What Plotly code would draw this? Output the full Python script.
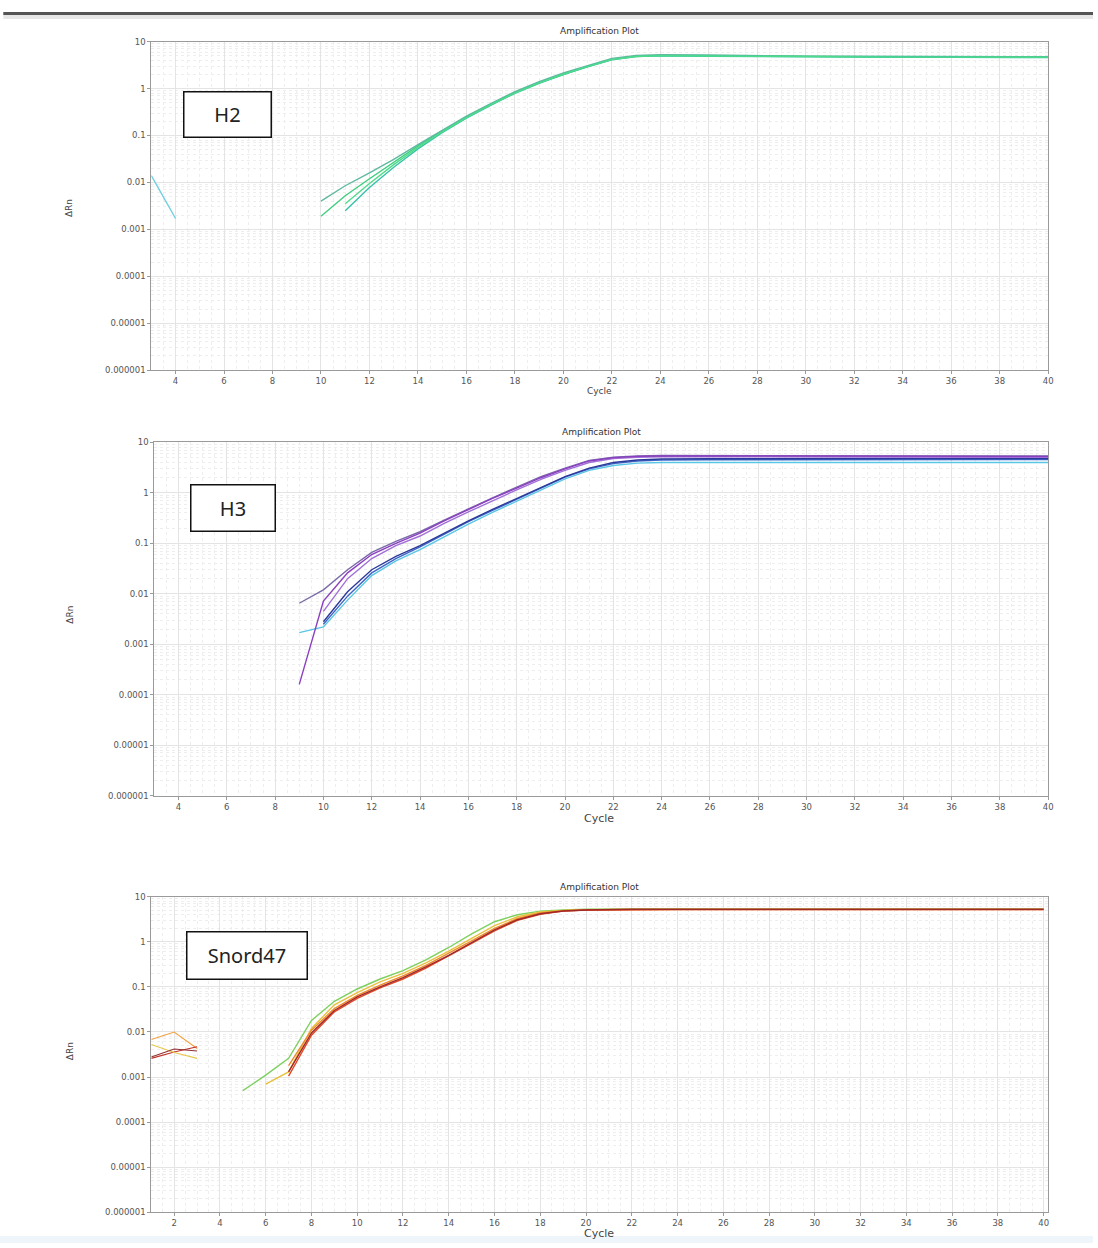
import plotly.graph_objects as go

# ---------------- data ----------------
y_tick_vals = [1e-6, 1e-5, 1e-4, 1e-3, 1e-2, 1e-1, 1, 10]
y_tick_text = ["0.000001", "0.00001", "0.0001", "0.001", "0.01", "0.1", "1", "10"]

tail = [24, 26, 28, 30, 32, 34, 36, 38, 40]

# H2 panel
h2_c1 = [10, 11, 12, 13, 14, 15, 16, 17, 18, 19, 20, 21, 22, 23] + tail
h2_v1 = [0.0019, 0.0052, 0.012, 0.027, 0.06, 0.125, 0.25, 0.46, 0.82, 1.35, 2.05, 3.0, 4.2, 4.9,
         5.1, 5.0, 4.9, 4.8, 4.8, 4.75, 4.75, 4.7, 4.7]
h2_c2 = [10, 11, 12, 13, 14, 15, 16, 17, 18, 19, 20, 21, 22, 23] + tail
h2_v2 = [0.004, 0.0085, 0.016, 0.031, 0.064, 0.13, 0.26, 0.48, 0.86, 1.4, 2.15, 3.1, 4.4, 5.1,
         5.3, 5.2, 5.0, 4.9, 4.9, 4.85, 4.85, 4.8, 4.8]
h2_c3 = [11, 12, 13, 14, 15, 16, 17, 18, 19, 20, 21, 22, 23] + tail
h2_v3 = [0.0025, 0.0078, 0.021, 0.052, 0.115, 0.235, 0.44, 0.79, 1.3, 2.0, 2.9, 4.1, 4.8,
         5.0, 4.9, 4.8, 4.7, 4.7, 4.65, 4.65, 4.6, 4.6]
h2_c4 = [11, 12, 13, 14, 15, 16, 17, 18, 19, 20, 21, 22, 23] + tail
h2_v4 = [0.0035, 0.0095, 0.024, 0.056, 0.12, 0.24, 0.45, 0.8, 1.32, 2.02, 2.95, 4.15, 4.85,
         5.05, 4.95, 4.85, 4.75, 4.75, 4.7, 4.7, 4.65, 4.65]
h2_c5 = [3, 4]
h2_v5 = [0.014, 0.0017]

# H3 panel
h3_c1 = [9, 10, 11, 12, 13, 14, 15, 16, 17, 18, 19, 20, 21, 22, 23] + tail
h3_v1 = [0.00016, 0.0072, 0.026, 0.06, 0.1, 0.16, 0.28, 0.47, 0.78, 1.25, 2.0, 3.0, 4.3, 5.0, 5.3,
         5.4, 5.4, 5.4, 5.4, 5.4, 5.35, 5.35, 5.3, 5.3]
h3_c2 = [9, 10, 11, 12, 13, 14, 15, 16, 17, 18, 19, 20, 21, 22, 23] + tail
h3_v2 = [0.0065, 0.012, 0.03, 0.066, 0.11, 0.17, 0.29, 0.49, 0.8, 1.3, 2.1, 3.1, 4.4, 5.1, 5.4,
         5.5, 5.5, 5.5, 5.5, 5.5, 5.45, 5.45, 5.4, 5.4]
h3_c3 = [10, 11, 12, 13, 14, 15, 16, 17, 18, 19, 20, 21, 22, 23] + tail
h3_v3 = [0.0045, 0.02, 0.05, 0.09, 0.14, 0.25, 0.42, 0.7, 1.15, 1.85, 2.8, 4.0, 4.8, 5.1,
         5.2, 5.2, 5.2, 5.15, 5.15, 5.1, 5.1, 5.1, 5.1]
h3_c4 = [10, 11, 12, 13, 14, 15, 16, 17, 18, 19, 20, 21, 22, 23] + tail
h3_v4 = [0.0025, 0.009, 0.026, 0.05, 0.085, 0.15, 0.27, 0.45, 0.75, 1.25, 2.05, 3.0, 3.8, 4.3,
         4.5, 4.55, 4.55, 4.6, 4.6, 4.6, 4.6, 4.6, 4.6]
h3_c5 = [9, 10, 11, 12, 13, 14, 15, 16, 17, 18, 19, 20, 21, 22, 23] + tail
h3_v5 = [0.0017, 0.0022, 0.0075, 0.023, 0.045, 0.075, 0.135, 0.24, 0.41, 0.69, 1.15, 1.9, 2.8, 3.5, 3.9,
         4.0, 4.0, 4.0, 4.0, 4.0, 4.0, 4.0, 4.0, 4.0]
h3_c6 = [10, 11, 12, 13, 14, 15, 16, 17, 18, 19, 20, 21, 22, 23] + tail
h3_v6 = [0.0028, 0.011, 0.03, 0.055, 0.09, 0.16, 0.28, 0.47, 0.78, 1.3, 2.1, 3.1, 4.0, 4.5,
         4.7, 4.75, 4.8, 4.8, 4.8, 4.8, 4.8, 4.8, 4.8]

# Snord47 panel
s_tail = [20, 22, 24, 26, 28, 30, 32, 34, 36, 38, 40]
s_c1 = [5, 6, 7, 8, 9, 10, 11, 12, 13, 14, 15, 16, 17, 18, 19] + s_tail
s_v1 = [0.0005, 0.0011, 0.0026, 0.018, 0.048, 0.09, 0.15, 0.23, 0.4, 0.75, 1.5, 2.8, 4.0, 4.8, 5.1,
        5.3, 5.4, 5.4, 5.4, 5.4, 5.4, 5.4, 5.4, 5.4, 5.4, 5.4]
s_c2 = [6, 7, 8, 9, 10, 11, 12, 13, 14, 15, 16, 17, 18, 19] + s_tail
s_v2 = [0.0007, 0.0013, 0.012, 0.04, 0.075, 0.13, 0.2, 0.34, 0.62, 1.2, 2.3, 3.6, 4.6, 5.0,
        5.2, 5.3, 5.3, 5.3, 5.3, 5.3, 5.3, 5.3, 5.3, 5.3, 5.3]
s_c3 = [7, 8, 9, 10, 11, 12, 13, 14, 15, 16, 17, 18, 19] + s_tail
s_v3 = [0.0018, 0.011, 0.033, 0.065, 0.11, 0.175, 0.3, 0.55, 1.05, 2.0, 3.3, 4.4, 4.9,
        5.1, 5.2, 5.2, 5.2, 5.2, 5.2, 5.2, 5.2, 5.2, 5.2, 5.2]
s_c4 = [7, 8, 9, 10, 11, 12, 13, 14, 15, 16, 17, 18, 19] + s_tail
s_v4 = [0.00105, 0.0085, 0.028, 0.056, 0.095, 0.15, 0.26, 0.48, 0.92, 1.75, 3.0, 4.1, 4.8,
        5.1, 5.2, 5.2, 5.2, 5.2, 5.2, 5.2, 5.2, 5.2, 5.2, 5.2]
s_c5 = [7, 8, 9, 10, 11, 12, 13, 14, 15, 16, 17, 18, 19] + s_tail
s_v5 = [0.0013, 0.0095, 0.03, 0.06, 0.1, 0.16, 0.28, 0.5, 0.96, 1.85, 3.1, 4.2, 4.85,
        5.1, 5.3, 5.3, 5.3, 5.3, 5.3, 5.3, 5.3, 5.3, 5.3, 5.3]
s_frag_c = [1, 2, 3]
s_frag_v1 = [0.0068, 0.0100, 0.0043]
s_frag_v2 = [0.0026, 0.0036, 0.0047]
s_frag_v3 = [0.0053, 0.0035, 0.0026]
s_frag_v4 = [0.0028, 0.0042, 0.0038]

# ---------------- figure ----------------
W, H = 1098, 1248
fig = go.Figure()

def px_x(p):
    return p / W

def px_y(p):
    return 1 - p / H

def add(c, v, color, ax, width=1.4):
    fig.add_trace(go.Scatter(x=c, y=v, mode="lines", xaxis="x" + ax, yaxis="y" + ax,
                             line=dict(color=color, width=width), showlegend=False,
                             hoverinfo="skip"))

# H2
add(h2_c5, h2_v5, "#6fcfe0", "")
add(h2_c1, h2_v1, "#3fcf7f", "")
add(h2_c2, h2_v2, "#5fb8a0", "")
add(h2_c3, h2_v3, "#35c2a8", "")
add(h2_c4, h2_v4, "#4fdc8a", "")
# H3
add(h3_c5, h3_v5, "#59c6e6", "2")
add(h3_c4, h3_v4, "#3f67c8", "2")
add(h3_c6, h3_v6, "#2b3a9a", "2")
add(h3_c3, h3_v3, "#a070d8", "2")
add(h3_c2, h3_v2, "#7a6aa8", "2")
add(h3_c1, h3_v1, "#8b3fc0", "2")
# Snord47
add(s_frag_c, s_frag_v1, "#f0a040", "3", 1.1)
add(s_frag_c, s_frag_v2, "#c0302a", "3", 1.1)
add(s_frag_c, s_frag_v3, "#e8c84a", "3", 1.1)
add(s_frag_c, s_frag_v4, "#903030", "3", 1.1)
add(s_c1, s_v1, "#7ed060", "3")
add(s_c2, s_v2, "#e8c040", "3")
add(s_c3, s_v3, "#f08a28", "3")
add(s_c4, s_v4, "#e04a28", "3")
add(s_c5, s_v5, "#a02828", "3")

panels = [
    # suffix, x-dom px, y-dom px (top,bottom), x range, tick0, title y, cycle y, yaxis-title y, box, cycle font
    ("", (152, 1053), (37, 368), [3, 40], 4, 26, 389, 205, ("H2", 229, 110, 86, 44), 9),
    ("2", (155, 1053), (441, 797), [3, 40], 4, 430, 820, 615, ("H3", 234.5, 507.5, 83, 45), 11),
    ("3", (152, 1053), (899, 1217), [1, 40.2], 2, 889, 1238, 1055, ("Snord47", 248.5, 958, 119, 46), 11),
]

minor_y = [m * 10 ** e for e in range(-6, 1) for m in range(2, 10)]
tick_font = dict(family="DejaVu Sans", size=8.5, color="#555")

for suf, xd, yd, xr, t0, ty, cy, ay, box, cfs in panels:
    xa = dict(domain=[px_x(xd[0]), px_x(xd[1])], range=xr, anchor="y" + suf,
              tick0=t0, dtick=2, showgrid=True, gridcolor="#e4e4e4", gridwidth=1,
              minor=dict(dtick=0.5, showgrid=True, gridcolor="#eeeeee", griddash="dot"),
              showline=True, linecolor="#9a9a9a", linewidth=1, mirror=True,
              ticks="outside", ticklen=3, tickcolor="#9a9a9a", tickfont=tick_font,
              zeroline=False, fixedrange=True)
    ya = dict(domain=[px_y(yd[1]), px_y(yd[0])], type="log", range=[-6, 1], anchor="x" + suf,
              tickmode="array", tickvals=y_tick_vals, ticktext=y_tick_text,
              showgrid=True, gridcolor="#e4e4e4",
              minor=dict(tickmode="array", tickvals=minor_y, showgrid=True,
                         gridcolor="#eeeeee", griddash="dot"),
              showline=True, linecolor="#9a9a9a", linewidth=1, mirror=True,
              ticks="outside", ticklen=3, tickcolor="#9a9a9a", tickfont=tick_font,
              zeroline=False, fixedrange=True)
    fig.update_layout(**{"xaxis" + suf: xa, "yaxis" + suf: ya})
    xc = (xd[0] + xd[1]) / 2
    fig.add_annotation(xref="paper", yref="paper", x=px_x(xc), y=px_y(ty),
                       xanchor="center", yanchor="middle",
                       text="Amplification Plot", showarrow=False,
                       font=dict(family="DejaVu Sans", size=9, color="#333"))
    fig.add_annotation(xref="paper", yref="paper", x=px_x(602), y=px_y(cy),
                       xanchor="center", yanchor="middle",
                       text="Cycle", showarrow=False,
                       font=dict(family="DejaVu Sans", size=cfs, color="#444"))
    fig.add_annotation(xref="paper", yref="paper", x=px_x(70), y=px_y(ay),
                       xanchor="center", yanchor="middle",
                       text="ΔRn", showarrow=False, textangle=-90,
                       font=dict(family="DejaVu Sans", size=9, color="#444"))
    label, bx, by, bw, bh = box
    fig.add_annotation(xref="paper", yref="paper", x=px_x(bx), y=px_y(by),
                       xanchor="center", yanchor="middle",
                       text=label, showarrow=False, width=bw, height=bh,
                       bordercolor="#111", borderwidth=1.5, borderpad=0, bgcolor="white",
                       font=dict(family="Noto Sans, Open Sans", size=20, color="#222"))

# page decorations: top separator bar and bottom tint band
fig.add_shape(type="rect", xref="paper", yref="paper", x0=0.003, x1=1, y0=px_y(10), y1=px_y(7),
              line=dict(width=0), fillcolor="#555555", layer="above")
fig.add_shape(type="rect", xref="paper", yref="paper", x0=0.003, x1=1, y0=px_y(14), y1=px_y(10),
              line=dict(width=0), fillcolor="#e6e6e6", layer="below")
fig.add_shape(type="rect", xref="paper", yref="paper", x0=0, x1=1, y0=0, y1=px_y(1241),
              line=dict(width=0), fillcolor="#eef6fb", layer="below")

fig.update_layout(width=W, height=H, margin=dict(l=0, r=0, t=0, b=0),
                  paper_bgcolor="white", plot_bgcolor="white", showlegend=False)

fig.write_html("out.html")
